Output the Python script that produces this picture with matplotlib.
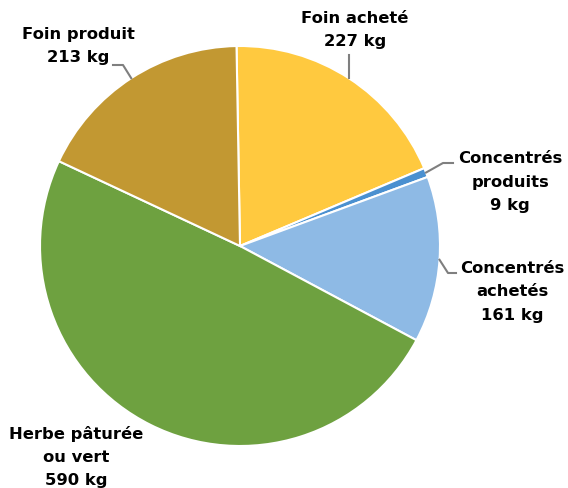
import numpy as np
import matplotlib.pyplot as plt

# données
categories = ["Foin acheté", "Concentrés\nproduits", "Concentrés\nachetés",
              "Herbe pâturée\nou vert", "Foin produit"]
valeurs = [227, 9, 161, 590, 213]
couleurs = ["#FFC93F", "#4A90D0", "#8EBAE5", "#6EA140", "#C29832"]

# position des étiquettes (pixels) et coude des traits de rappel
pos_labels = [(355, 30), (510, 182), (512, 292), (76, 457), (78, 46)]
coudes = [None, [(443, 163), (453, 163)], [(448, 273), (456, 273)], None,
          [(123, 65), (113, 65)]]

cx, cy, R = 240, 246, 200


def px(p):
    return ((p[0] - cx) / R, (cy - p[1]) / R)


fig = plt.figure(figsize=(5.68, 4.88), dpi=100)
ax = fig.add_axes([0, 0, 1, 1])
wedges, _ = ax.pie(valeurs, colors=couleurs, startangle=91, counterclock=False,
                   radius=1, wedgeprops=dict(edgecolor="white", linewidth=1.5))
ax.set_xlim(-cx / R, (568 - cx) / R)
ax.set_ylim((cy - 488) / R, cy / R)
ax.set_aspect("equal")
ax.axis("off")

for w, cat, v, lp, cd in zip(wedges, categories, valeurs, pos_labels, coudes):
    x, y = px(lp)
    ax.text(x, y, f"{cat}\n{v} kg", ha="center", va="center", fontsize=11.8,
            fontweight="bold", family="DejaVu Sans", linespacing=1.68)
    if cd is not None:
        a = np.deg2rad((w.theta1 + w.theta2) / 2)
        pts = [(np.cos(a), np.sin(a))] + [px(p) for p in cd]
        xs, ys = zip(*pts)
        ax.plot(xs, ys, color="#7F7F7F", lw=1.5)

# trait vertical pour Foin acheté
a = np.deg2rad((wedges[0].theta1 + wedges[0].theta2) / 2)
ax.plot([np.cos(a), np.cos(a)], [np.sin(a), px((0, 55))[1]], color="#7F7F7F", lw=1.5)

plt.savefig("out.png", dpi=100)
plt.close()
